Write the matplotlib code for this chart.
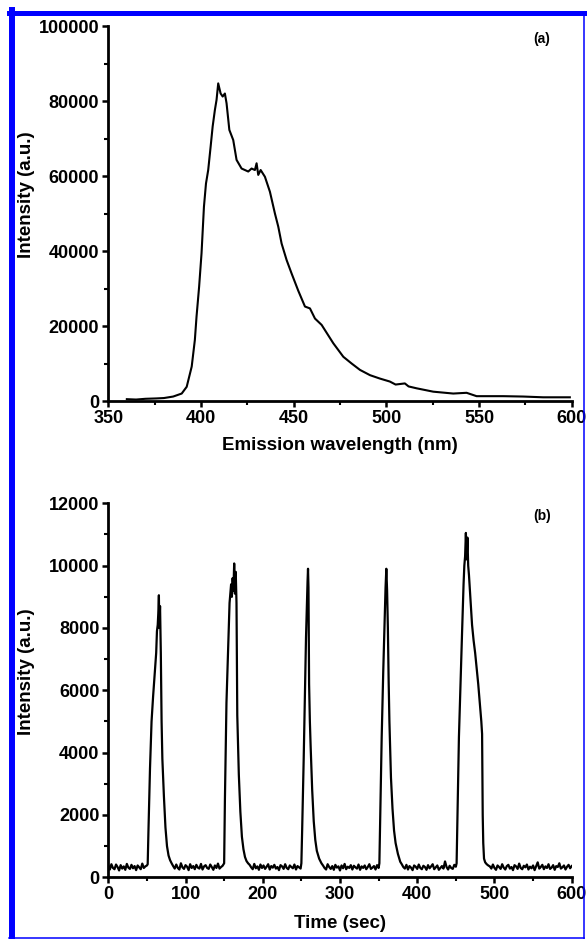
import numpy as np
import matplotlib
matplotlib.use("Agg")
import matplotlib.pyplot as plt
from matplotlib.lines import Line2D
from matplotlib.ticker import MultipleLocator

plt.rcParams['font.family'] = ['Liberation Sans', 'DejaVu Sans']
plt.rcParams['font.weight'] = 'bold'

# (a) emission spectrum (intensity in thousands)
wavelength = [360, 365, 370, 376, 380, 385, 389.6, 392.3, 395, 396.7, 397.6, 399,
              400.3, 401.6, 402.7, 403.9, 405.2, 406.3, 407.5, 408.4, 409.3, 410.6,
              411.7, 412.9, 413.8, 415.3, 417.4, 419.2, 421.9, 425.5, 427.3, 429.1,
              430, 430.9, 432.2, 434.5, 437.2, 439.9, 441.7, 443.5, 446.2, 448.9,
              452.5, 456.1, 458.8, 461.5, 465.1, 471.4, 476.8, 481.3, 485.8, 491.2,
              496.5, 501.9, 505, 510, 512, 516.3, 525.3, 536.1, 543.3, 548.7, 563.1,
              573.9, 584.6, 599]
emission_k = [0.5, 0.4, 0.6, 0.7, 0.8, 1.2, 2.0, 3.8, 9.2, 16.3, 22.5, 30.5,
              39.4, 51.8, 58, 61.6, 67.8, 73.2, 77.6, 80.3, 84.7, 82,
              81.2, 82, 79.4, 72.3, 69.6, 64.3, 62, 61.2, 62, 61.6,
              63.4, 60.3, 61.6, 59.8, 55.8, 50, 46.5, 42, 37.6, 34,
              29.4, 25.2, 24.7, 22, 20.3, 15.4, 11.8, 10, 8.3, 6.9,
              6.0, 5.2, 4.4, 4.7, 3.9, 3.4, 2.5, 2.0, 2.2, 1.3, 1.3,
              1.2, 1.0, 1.0]

# (b) time trace: baseline stretches (2 s apart) and the five pulses
base_a_start, base_a = 0, [380, 250, 420, 300, 260, 410, 330, 220, 390, 280, 350, 240, 430,
                           310, 270, 400, 290, 360, 230, 380, 320, 260, 440, 300, 350, 380]
base_b_start, base_b = 84, [360, 280, 410, 300, 250, 450, 320, 270, 390, 340, 230, 420, 300,
                            360, 260, 400, 310, 280, 430, 250, 350, 390, 300, 270, 410, 330,
                            240, 380, 300, 440, 280, 330, 370]
base_c_start, base_c = 183, [400, 320, 260, 430, 290, 350, 240, 410, 300, 380, 270, 340, 420,
                             250, 360, 310, 400, 280, 330, 230, 390, 350, 270, 420, 300, 260,
                             380, 330, 290, 410, 250, 360, 320, 280]
base_d_start, base_d = 278, [380, 300, 250, 420, 330, 270, 360, 240, 400, 310, 350, 220, 380,
                             290, 430, 260, 340, 300, 390, 250, 370, 320, 280, 410, 240, 350,
                             300, 380, 260, 330, 420, 270, 310, 360, 250, 390, 300]
base_e_start, base_e = 380, [420, 330, 280, 400, 250, 360, 310, 230, 380, 340, 270, 410, 300,
                             260, 370, 330, 240, 390, 290, 350, 420, 260, 320, 380, 240, 300,
                             360, 280, 510, 330, 250, 370, 300, 270, 400, 340]
base_f_start, base_f = 494, [350, 280, 410, 300, 240, 380, 330, 270, 420, 310, 250, 360, 400,
                             280, 330, 230, 390, 350, 270, 440, 300, 260, 370, 320, 410, 250,
                             340, 290, 380, 230, 360, 480, 280, 330, 400, 260, 350, 300, 420,
                             270, 310, 390, 240, 360, 330, 450, 280, 320, 380, 250, 340, 400,
                             290, 360]

pulse1_t = [51, 52, 54, 56, 58, 60, 62, 63, 64, 65, 65.5, 66, 67, 68, 69, 70, 72, 74, 76, 78, 80, 82]
pulse1_i = [420, 1500, 3500, 5000, 5800, 6500, 7200, 7900, 8100, 8600, 9050, 8000, 8700, 7200,
            5000, 3800, 2600, 1600, 1000, 700, 550, 450]
pulse2_t = [150, 151, 153, 155, 157, 159, 160, 161, 162, 163, 164, 165, 166, 167, 169, 171, 173,
            175, 177, 179, 181]
pulse2_i = [450, 2500, 5600, 7200, 8800, 9400, 9000, 9600, 9200, 10070, 9100, 9800, 8800, 5200,
            3300, 2100, 1300, 900, 650, 520, 450]
pulse3_t = [250, 251, 253, 255, 256, 257, 258, 258.6, 259.2, 260, 261, 262, 264, 266, 268, 270,
            273, 276]
pulse3_i = [450, 1500, 3800, 6300, 7700, 8600, 9500, 9900, 9300, 6200, 5000, 4200, 2800, 1800,
            1200, 850, 600, 450]
pulse4_t = [351, 352, 354, 356, 358, 359, 360, 361, 362, 363, 364, 366, 368, 370, 372, 375, 378]
pulse4_i = [450, 1800, 4500, 6600, 8400, 9300, 9900, 9200, 8000, 6300, 5000, 3200, 2200, 1500,
            1100, 750, 500]
pulse5_t = [451, 452, 454, 456, 458, 460, 461, 462, 463, 464, 465, 466, 467, 469, 471, 473, 475,
            477, 479, 481, 483, 484, 484.8, 485.5, 486.5, 488, 490, 492]
pulse5_i = [450, 1800, 4500, 6200, 7800, 9400, 10000, 10300, 11050, 10200, 10900, 10000, 9700,
            8900, 8100, 7600, 7200, 6700, 6200, 5600, 5000, 4600, 2000, 1100, 600, 480, 420, 380]


def base_times(start, vals):
    return list(start + 2 * np.arange(len(vals)))


time_s = (base_times(base_a_start, base_a) + pulse1_t + base_times(base_b_start, base_b) + pulse2_t
          + base_times(base_c_start, base_c) + pulse3_t + base_times(base_d_start, base_d) + pulse4_t
          + base_times(base_e_start, base_e) + pulse5_t + base_times(base_f_start, base_f))
signal = (base_a + pulse1_i + base_b + pulse2_i + base_c + pulse3_i + base_d + pulse4_i
          + base_e + pulse5_i + base_f)


def style_axes(ax):
    for s in ['top', 'right']:
        ax.spines[s].set_visible(False)
    for s in ['left', 'bottom']:
        ax.spines[s].set_linewidth(2.0)
    ax.tick_params(which='major', direction='out', length=4.5, width=1.8, labelsize=13, pad=2)
    ax.tick_params(which='minor', direction='out', length=3, width=1.5)
    for lab in ax.get_xticklabels() + ax.get_yticklabels():
        lab.set_fontweight('bold')


fig = plt.figure(figsize=(5.87, 9.39), dpi=100)

ax1 = fig.add_axes([0.1845, 0.5729, 0.7894, 0.3994])
ax1.plot(wavelength, np.array(emission_k) * 1000, color='black', lw=1.5)
ax1.set_xlim(350, 600)
ax1.set_ylim(0, 100000)
ax1.xaxis.set_major_locator(MultipleLocator(50))
ax1.xaxis.set_minor_locator(MultipleLocator(25))
ax1.yaxis.set_major_locator(MultipleLocator(20000))
ax1.yaxis.set_minor_locator(MultipleLocator(10000))
style_axes(ax1)
ax1.set_xlabel('Emission wavelength (nm)', fontsize=13.5, fontweight='bold')
ax1.set_ylabel('Intensity (a.u.)', fontsize=13.5, fontweight='bold')
ax1.xaxis.set_label_coords(0.5, -0.097)
ax1.yaxis.set_label_coords(-0.158, 0.549)
ax1.text(0.935, 0.965, '(a)', transform=ax1.transAxes, fontsize=10, fontweight='bold',
         ha='center', va='center')

ax2 = fig.add_axes([0.1845, 0.0657, 0.7894, 0.3983])
ax2.plot(time_s, signal, color='black', lw=1.6)
ax2.set_xlim(0, 600)
ax2.set_ylim(0, 12000)
ax2.xaxis.set_major_locator(MultipleLocator(100))
ax2.xaxis.set_minor_locator(MultipleLocator(50))
ax2.yaxis.set_major_locator(MultipleLocator(2000))
ax2.yaxis.set_minor_locator(MultipleLocator(1000))
style_axes(ax2)
ax2.set_xlabel('Time (sec)', fontsize=13.5, fontweight='bold')
ax2.set_ylabel('Intensity (a.u.)', fontsize=13.5, fontweight='bold')
ax2.xaxis.set_label_coords(0.5, -0.101)
ax2.yaxis.set_label_coords(-0.158, 0.549)
ax2.text(0.937, 0.965, '(b)', transform=ax2.transAxes, fontsize=10, fontweight='bold',
         ha='center', va='center')

# blue frame round the whole figure
W, H = 587.0, 939.0
blue = '#0000ff'
fig.add_artist(Line2D([12 / W, 12 / W], [1 - 10 / H, 1 - 938.5 / H], color=blue, lw=4.3,
                      transform=fig.transFigure))
fig.add_artist(Line2D([9 / W, 585 / W], [1 - 12.5 / H, 1 - 12.5 / H], color=blue, lw=3.6,
                      transform=fig.transFigure))
fig.add_artist(Line2D([583.5 / W, 583.5 / W], [1 - 12 / H, 1 - 938.5 / H], color=blue, lw=1.1,
                      transform=fig.transFigure))
fig.add_artist(Line2D([9 / W, 584 / W], [1 - 938.3 / H, 1 - 938.3 / H], color=blue, lw=1.1,
                      transform=fig.transFigure))

fig.savefig('out.png', dpi=100)
